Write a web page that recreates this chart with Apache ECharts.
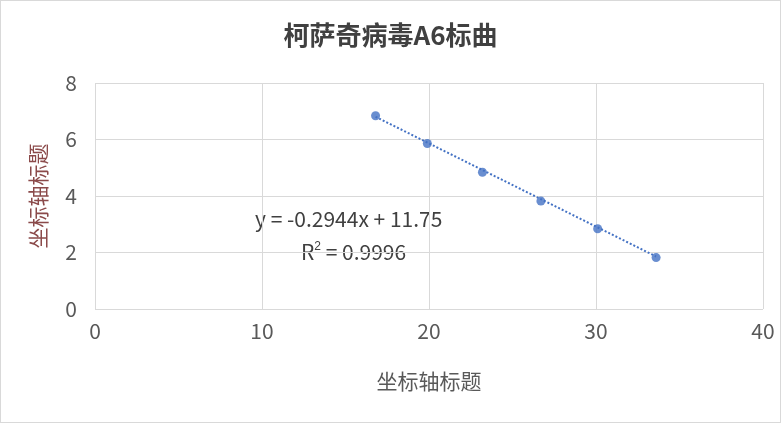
<!DOCTYPE html>
<html><head><meta charset="utf-8">
<script src="https://cdn.jsdelivr.net/npm/echarts@6/dist/echarts.min.js"></script>
<style>html,body{margin:0;padding:0}#c{width:781px;height:423px;box-sizing:border-box;border:1px solid #d9d9d9}</style>
</head><body><div id="c"></div>
<script>
const xValues=[16.8,19.9,23.2,26.7,30.1,33.6];
const yValues=[6.84,5.86,4.84,3.82,2.84,1.82];
const slope=-0.2944, intercept=11.75;
const xTicks=[0,10,20,30,40];
const chart=echarts.init(document.getElementById('c'));
const pts=xValues.map((x,i)=>[x,yValues[i]]);
const x0=xValues[0], x1=xValues[xValues.length-1];
const font='"Noto Sans CJK SC","Noto Sans",sans-serif';
chart.setOption({
  animation:false,
  title:{text:'柯萨奇病毒A6标曲',left:'center',top:16,textStyle:{fontFamily:font,fontSize:26,fontWeight:'bold',color:'#404040'}},
  grid:{left:94,right:17,top:82,bottom:113},
  xAxis:{type:'value',min:0,max:40,interval:10,name:'坐标轴标题',nameLocation:'middle',nameGap:62,
    nameTextStyle:{fontFamily:font,fontSize:21,color:'#595959'},
    axisLine:{show:false},axisTick:{show:false},
    axisLabel:{fontSize:21,color:'#595959',fontFamily:font,margin:12,formatter:v=>xTicks.includes(v)?v:''},
    splitLine:{lineStyle:{color:'#d9d9d9'}}},
  yAxis:{type:'value',min:0,max:8,interval:2,name:'坐标轴标题',nameLocation:'middle',nameGap:46,
    nameTextStyle:{fontFamily:font,fontSize:21,color:'#8b4a4a'},
    axisLine:{show:false},axisTick:{show:false},
    axisLabel:{fontSize:21,color:'#595959',fontFamily:font,margin:18},
    splitLine:{lineStyle:{color:'#d9d9d9'}}},
  series:[
    {type:'line',data:[[x0,slope*x0+intercept],[x1,slope*x1+intercept]],symbol:'none',
     lineStyle:{type:[2,2],width:2,color:'#4472c4'},z:1},
    {type:'scatter',data:pts,symbolSize:9,itemStyle:{color:'#4472c4'},z:2}
  ],
  graphic:[
    {type:'text',left:254,top:208,style:{text:'y = -0.2944x + 11.75',fontSize:21,fontFamily:font,fill:'#404040'}},
    {type:'text',left:300,top:240,style:{text:'R{s|2} = 0.9996',fontSize:21,fontFamily:font,fill:'#404040',
      rich:{s:{fontSize:12,verticalAlign:'top',padding:[0,0,10,0],fill:'#404040'}}}}
  ]
});
</script></body></html>
